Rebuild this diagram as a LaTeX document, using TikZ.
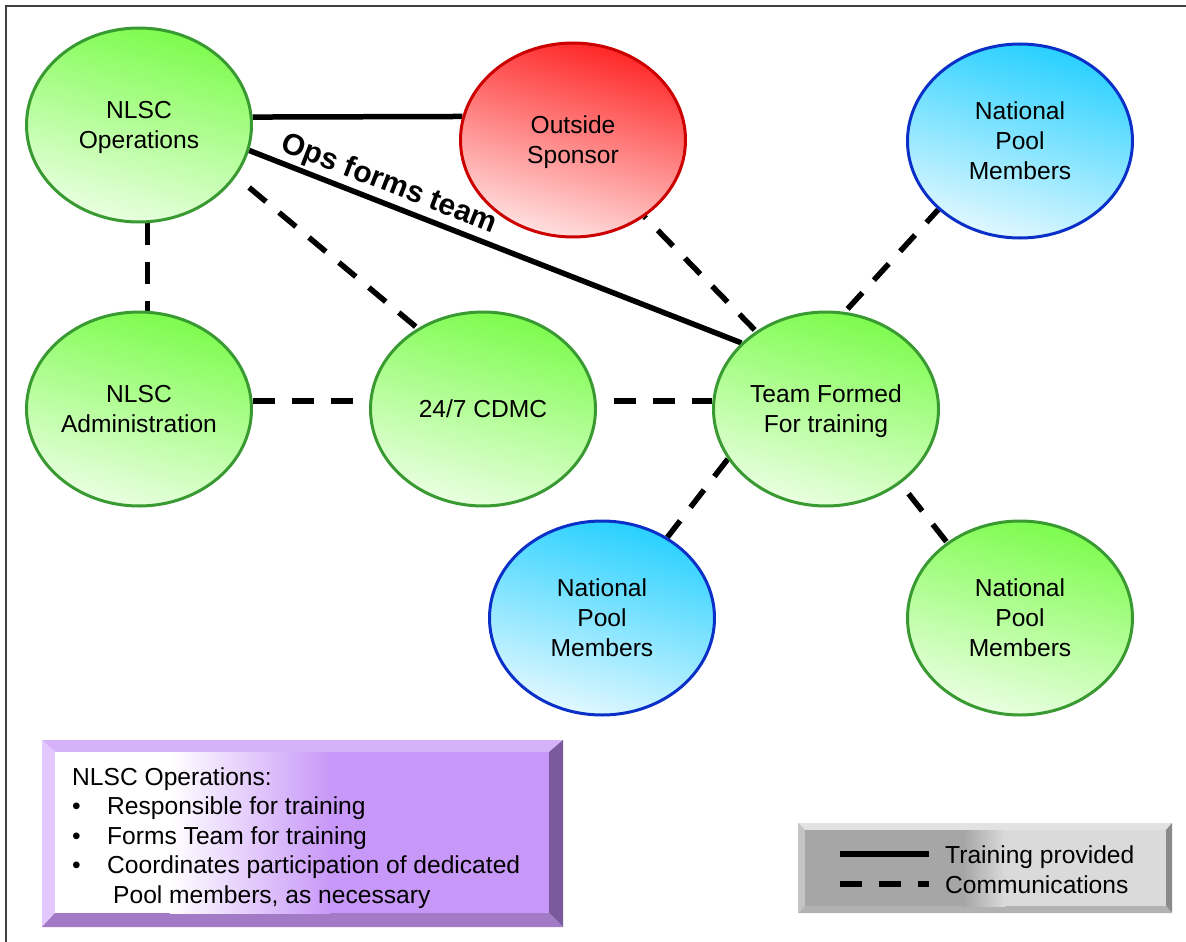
\documentclass[tikz,border=0pt]{standalone}
\usepackage{fontspec}
\setmainfont{Liberation Sans}
\usetikzlibrary{shapes.geometric}
\pgfdeclarelayer{background}
\pgfsetlayers{background,main}

% bubble colours
\definecolor{grnTop}{HTML}{7CFC4C}
\definecolor{grnBot}{HTML}{EAFFE2}
\definecolor{grnLine}{HTML}{3A9A32}
\definecolor{redTop}{HTML}{FF2626}
\definecolor{redBot}{HTML}{FFE2E2}
\definecolor{redLine}{HTML}{CC0000}
\definecolor{bluTop}{HTML}{26D0FF}
\definecolor{bluBot}{HTML}{E2F8FF}
\definecolor{bluLine}{HTML}{0A30C8}
% bevelled note box
\definecolor{purFace}{HTML}{C898F8}
\definecolor{purTop}{HTML}{D6B2FA}
\definecolor{purLeft}{HTML}{E2C8FF}
\definecolor{purRight}{HTML}{7A5A9A}
\definecolor{purBot}{HTML}{A37AC6}
% bevelled legend box
\definecolor{legFaceL}{HTML}{A6A6A6}
\definecolor{legFaceR}{HTML}{DADADA}
\definecolor{legTop}{HTML}{E2E2E2}
\definecolor{legLeft}{HTML}{C4C4C4}
\definecolor{legRight}{HTML}{8A8A8A}
\definecolor{legBot}{HTML}{B2B2B2}

\tikzset{
  bubble/.style={ellipse, minimum width=225pt, minimum height=194pt,
    inner sep=0pt, line width=3pt, align=center, text depth=0pt,
    font=\fontsize{24.6}{30}\selectfont},
  greenbub/.style={bubble, draw=grnLine, top color=grnTop, bottom color=grnBot, shading angle=-15},
  redbub/.style={bubble, draw=redLine, top color=redTop, bottom color=redBot, shading angle=-15},
  bluebub/.style={bubble, draw=bluLine, top color=bluTop, bottom color=bluBot, shading angle=-15},
  train/.style={line width=5.5pt},
  comm/.style={line width=5.5pt, dash pattern=on 22pt off 17pt},
  frameline/.style={line width=1.5pt, draw=black!75},
  bodytext/.style={inner sep=0pt, font=\fontsize{24.6}{29.5}\selectfont}
}

\begin{document}
\begin{tikzpicture}[x=1pt, y=-1pt]
\useasboundingbox (0,0) rectangle (1186,942);

% page frame (top and left rules)
\draw[frameline] (6,942) -- (6,6) -- (1186,6);

% bubbles
\node[greenbub] (ops)     at (139,125)  {NLSC\\Operations};
\node[redbub]   (sponsor) at (573,140)  {Outside\\Sponsor};
\node[bluebub]  (poolA)   at (1020,141) {National\\Pool\\Members};
\node[greenbub] (admin)   at (139,409)  {NLSC\\Administration};
\node[greenbub] (cdmc)    at (483,409)  {24/7 CDMC};
\node[greenbub] (team)    at (826,409)  {Team Formed\\For training};
\node[bluebub]  (poolB)   at (602,618)  {National\\Pool\\Members};
\node[greenbub] (poolC)   at (1020,618) {National\\Pool\\Members};

% connectors, kept behind the bubbles
\begin{pgfonlayer}{background}
  \draw[train] (ops.4) -- (sponsor.168);
  \draw[train] (ops.-13) -- (team.142)
    node[pos=0.27, sloped, above, inner sep=2.5pt,
         font=\fontsize{30}{34}\selectfont\bfseries] (opslabel) {Ops forms team};
  \draw[comm] (ops.-85) -- (admin.85);
  \draw[comm, dash phase=22pt] (ops.-28) -- (cdmc.129);
  \draw[comm] (admin.4) -- (cdmc.176);
  \draw[comm, dash phase=22pt] (cdmc.4) -- (team.176);
  \draw[comm, dash phase=20pt] (sponsor.-47) -- (team.132);
  \draw[comm, dash phase=35pt] (team.79) -- (poolA.-140);
  \draw[comm] (team.-153) -- (poolB.51);
  \draw[comm, dash phase=26pt] (team.-45) -- (poolC.134);
\end{pgfonlayer}

% bevelled note box
\fill[purTop]   (42,740) -- (563,740) -- (549,752) -- (55,752) -- cycle;
\fill[purLeft]  (42,740) -- (55,752) -- (55,913) -- (42,927) -- cycle;
\fill[purRight] (563,740) -- (563,927) -- (549,913) -- (549,752) -- cycle;
\fill[purBot]   (42,927) -- (55,913) -- (549,913) -- (563,927) -- cycle;
\fill[purFace]  (55,752) rectangle (549,913);
\fill[white]    (55,752) rectangle (170,913);
\shade[left color=white, right color=purFace] (170,752) rectangle (330,913);
\node[bodytext, anchor=north west, align=left] (notes) at (72,767)
  {NLSC Operations:\\
   \makebox[35pt][l]{•}Responsible for training\\
   \makebox[35pt][l]{•}Forms Team for training\\
   \makebox[35pt][l]{•}Coordinates participation of dedicated\\
   \hspace*{41pt}Pool members, as necessary};

% bevelled legend box
\fill[legTop]   (798,823) -- (1172,823) -- (1166,830) -- (805,830) -- cycle;
\fill[legLeft]  (798,823) -- (805,830) -- (805,906) -- (798,913) -- cycle;
\fill[legRight] (1172,823) -- (1172,913) -- (1166,906) -- (1166,830) -- cycle;
\fill[legBot]   (798,913) -- (805,906) -- (1166,906) -- (1172,913) -- cycle;
\fill[legFaceL] (805,830) rectangle (963,906);
\shade[left color=legFaceL, right color=legFaceR] (963,830) rectangle (1005,906);
\fill[legFaceR] (1005,830) rectangle (1166,906);

\coordinate (trainA) at (840,854);
\coordinate (trainB) at (929,854);
\coordinate (commA)  at (840,884);
\coordinate (commB)  at (929,884);
\draw[train] (trainA) -- (trainB);
\draw[comm]  (commA) -- (commB);
\node[bodytext, anchor=base west] (trainlbl) at (945,863) {Training provided};
\node[bodytext, anchor=base west] (commlbl)  at (945,893) {Communications};

\end{tikzpicture}
\end{document}
